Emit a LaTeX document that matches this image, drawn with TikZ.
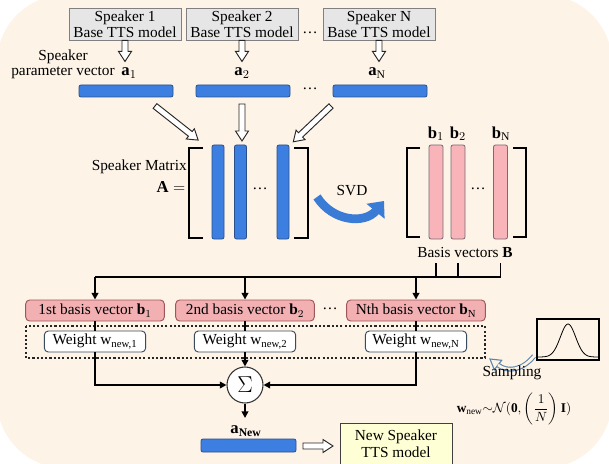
\documentclass[tikz,border=0pt]{standalone}
\usepackage{fontspec}
\setmainfont{Liberation Serif}
\usetikzlibrary{arrows.meta,calc}
\definecolor{bgc}{HTML}{FDF3E7}
\definecolor{grayfill}{HTML}{E6E6E6}
\definecolor{grayline}{HTML}{808080}
\definecolor{barblue}{HTML}{3D7FE0}
\definecolor{barline}{HTML}{2A4F8A}
\definecolor{pinkfill}{HTML}{F2B0B3}
\definecolor{pinkline}{HTML}{A0575A}
\definecolor{bpink}{HTML}{F8B4B8}
\definecolor{bpinkline}{HTML}{7A6A75}
\definecolor{wline}{HTML}{3A4A60}
\definecolor{newfill}{HTML}{FFFFD6}
\definecolor{svdblue}{HTML}{3A7BD5}
\definecolor{sampblue}{HTML}{5A82AA}
\tikzset{
  pics/harrow/.style={code={\draw[fill=white, draw=black!85, line width=0.7pt, line join=miter] (0,-3) -- ({#1-10},-3) -- ({#1-10},-6.5) -- (#1,0) -- ({#1-10},6.5) -- ({#1-10},3) -- (0,3) -- cycle;}}
}
\begin{document}
\begin{tikzpicture}[x=0.75pt,y=-0.75pt,
  txt/.style={font=\fontsize{11.5}{12.5}\selectfont, inner sep=0pt, align=center},
  topbox/.style={draw=grayline, fill=grayfill, line width=0.7pt, minimum width=84pt, minimum height=24pt, inner sep=0pt, align=center, font=\fontsize{11.5}{12}\selectfont},
  hbar/.style={draw=barline, fill=barblue, line width=0.6pt, rounded corners=1.5pt, minimum width=70.5pt, minimum height=9pt, inner sep=0pt},
  abar/.style={draw=barline, fill=barblue, line width=0.6pt, rounded corners=1.5pt, minimum width=9pt, minimum height=70.5pt, inner sep=0pt},
  bbar/.style={draw=bpinkline, fill=bpink, line width=0.6pt, rounded corners=1.5pt, minimum width=10.5pt, minimum height=70.5pt, inner sep=0pt},
  pinkbox/.style={draw=pinkline, fill=pinkfill, line width=0.7pt, rounded corners=3pt, minimum width=104pt, minimum height=15.75pt, inner sep=0pt, font=\fontsize{11.5}{12.5}\selectfont},
  wbox/.style={draw=wline, fill=white, line width=0.7pt, rounded corners=3pt, minimum width=76pt, minimum height=15.75pt, inner sep=0pt, font=\fontsize{11.5}{12.5}\selectfont},
  conn/.style={line width=1.4pt, draw=black},
  arr/.style={conn, -{Triangle[length=5pt,width=5pt]}},
  brk/.style={line width=1.3pt, line cap=butt},
  mlab/.style={font=\fontsize{12.5}{13}\selectfont, inner sep=0pt}
]
\useasboundingbox (0,0) rectangle (609,463);
\clip (0,0) rectangle (609,463);
\fill[bgc, rounded corners=51pt] (-3,-5) rectangle (612,468);

% top boxes
\node[topbox] (s1) at (125,24) {Speaker 1\\Base TTS model};
\node[topbox] (s2) at (242,24) {Speaker 2\\Base TTS model};
\node[topbox] (sN) at (379,24) {Speaker N\\Base TTS model};
\node[txt] (d1) at (310,33) {\dots};

\node[txt] (spk) at (63,57) {Speaker};
\node[txt] (pv) at (63,73) {parameter vector};
\node[mlab] (la1) at (129,73) {$\mathbf{a}_1$};
\node[mlab] (la2) at (242,73) {$\mathbf{a}_2$};
\node[mlab] (laN) at (377,73) {$\mathbf{a}_\mathrm{N}$};

\pic[rotate=-90] at (s1.south) {harrow=21};
\pic[rotate=-90] at (s2.south) {harrow=21};
\pic[rotate=-90] at (sN.south) {harrow=21};

% parameter bars
\node[hbar] (a1) at (126,91) {};
\node[hbar] (a2) at (243,91) {};
\node[hbar] (aN) at (380,91) {};
\node[txt] (d2) at (310,89) {\dots};

% matrix A
\draw[brk] (203,148) -- (189,148) -- (189,238) -- (203,238);
\draw[brk] (294,148) -- (308,148) -- (308,238) -- (294,238);
\node[abar] (A1) at (218,192) {};
\node[abar] (A2) at (240.5,192) {};
\node[abar] (AN) at (283,192) {};
\node[txt] (d3) at (260,189) {\dots};
\node[txt, anchor=east] (smx) at (187,167) {Speaker Matrix};
\node[mlab] (Aeq) at (171,187) {$\mathbf{A} =$};

\coordinate (h1s) at (155,106);
\coordinate (h2s) at (242,104);
\coordinate (h3s) at (331,106);
\pic[rotate=-38.3] at (h1s) {harrow=55};
\pic[rotate=-90] at (h2s) {harrow=37};
\pic[rotate=-136.5] at (h3s) {harrow=52};

% SVD
\coordinate (svs) at (317,197);
\coordinate (sve) at (384,201);
\draw[svdblue, line width=6.5pt, -{Triangle[length=10pt,width=17pt]}] (svs) .. controls (333,222) and (365,224) .. (sve);
\node[txt] (svd) at (352,191) {SVD};

% matrix B
\draw[brk] (420,148) -- (407,148) -- (407,237) -- (420,237);
\draw[brk] (513,148) -- (526,148) -- (526,237) -- (513,237);
\node[bbar] (B1) at (436,192) {};
\node[bbar] (B2) at (458,192) {};
\node[bbar] (BN) at (500.5,192) {};
\node[txt] (d4) at (478,189) {\dots};
\node[mlab] (lb1) at (436,134) {$\mathbf{b}_1$};
\node[mlab] (lb2) at (458,134) {$\mathbf{b}_2$};
\node[mlab] (lbN) at (501,134) {$\mathbf{b}_\mathrm{N}$};
\node[txt] (lblB) at (465,252) {Basis vectors $\mathbf{B}$};

% bus
\coordinate (bt) at (0,263);
\coordinate (bus) at (0,277);
\draw[conn] (B1 |- bt) -- (B1 |- bus);
\draw[conn] (B2 |- bt) -- (B2 |- bus);
\draw[conn] (BN |- bt) -- (BN |- bus);

% pink boxes
\node[pinkbox] (P1) at (95,310.5) {1st basis vector $\mathbf{b}_1$};
\node[pinkbox] (P2) at (245,310.5) {2nd basis vector $\mathbf{b}_2$};
\node[pinkbox] (PN) at (416,310.5) {Nth basis vector $\mathbf{b}_\mathrm{N}$};
\node[txt] (d5) at (330,309) {\dots};

\draw[conn] (P1 |- bus) -- (BN |- bus);
\draw[arr] (P1 |- bus) -- (P1.north);
\draw[arr] (P2 |- bus) -- (P2.north);
\draw[arr] (PN |- bus) -- (PN.north);

% dotted frame
\draw[line width=1.6pt, dash pattern=on 1.6pt off 1.6pt, black!85] (26,326) rectangle (485,358);

% weights
\node[wbox] (W1) at (95,341.5) {Weight w\textsubscript{new,1}};
\node[wbox] (W2) at (245,341.5) {Weight w\textsubscript{new,2}};
\node[wbox] (WN) at (416,341.5) {Weight w\textsubscript{new,N}};
\draw[conn] (P1.south) -- (W1.north);
\draw[conn] (P2.south) -- (W2.north);
\draw[conn] (PN.south) -- (WN.north);

% sum
\node[circle, draw=black!80, fill=white, line width=0.8pt, minimum size=27pt, inner sep=0pt, font=\fontsize{17}{17}\selectfont] (S) at (245,385) {$\Sigma$};
\draw[arr] (W1.south) |- (S.west);
\draw[arr] (W2.south) -- (S.north);
\draw[arr] (WN.south) |- (S.east);

% new speaker
\node[mlab] (lnew) at (246,431) {$\mathbf{a}_\mathbf{New}$};
\coordinate (sse) at (245,418);
\draw[arr] (S.south) -- (sse);
\node[hbar, minimum width=71.25pt, minimum height=9.75pt] (An) at (248.5,445.5) {};
\node[draw=black!75, fill=newfill, line width=0.7pt, minimum width=84pt, minimum height=39pt, inner sep=0pt] (NB) at (396,449) {};
\node[txt] (nbt) at (396,444) {New Speaker\\TTS model};
\coordinate (nas) at (303,446);
\pic at (nas) {harrow=30};

% gaussian
\node[draw=black, line width=0.9pt, minimum width=46.5pt, minimum height=30.75pt, inner sep=0pt] (G) at (568,339.5) {};
\draw[line width=0.6pt] plot[domain=-1:1, samples=60, smooth] ({568+30*\x},{357-33*exp(-(\x/0.36)^2)});

% sampling arrow
\draw[sampblue, fill=bgc, line width=0.8pt, line join=miter] (490,359) -- (501.7,360.3) -- (494.3,369.7) -- cycle;
\draw[sampblue, line width=3.6pt] (534,356) .. controls (522,371) and (507,372) .. (498,365);
\draw[bgc, line width=2pt] (534.5,355.5) .. controls (522,371) and (507,372) .. (498,365);
\node[txt] (samp) at (512,373) {Sampling};
\node[txt, font=\fontsize{10}{11}\selectfont] (form) at (514,409) {$\mathbf{w}_{\mathrm{new}}{\sim}\mathcal{N}(\mathbf{0},\left({\displaystyle\frac{1}{N}}\right)\mathbf{I})$};
\end{tikzpicture}
\end{document}
